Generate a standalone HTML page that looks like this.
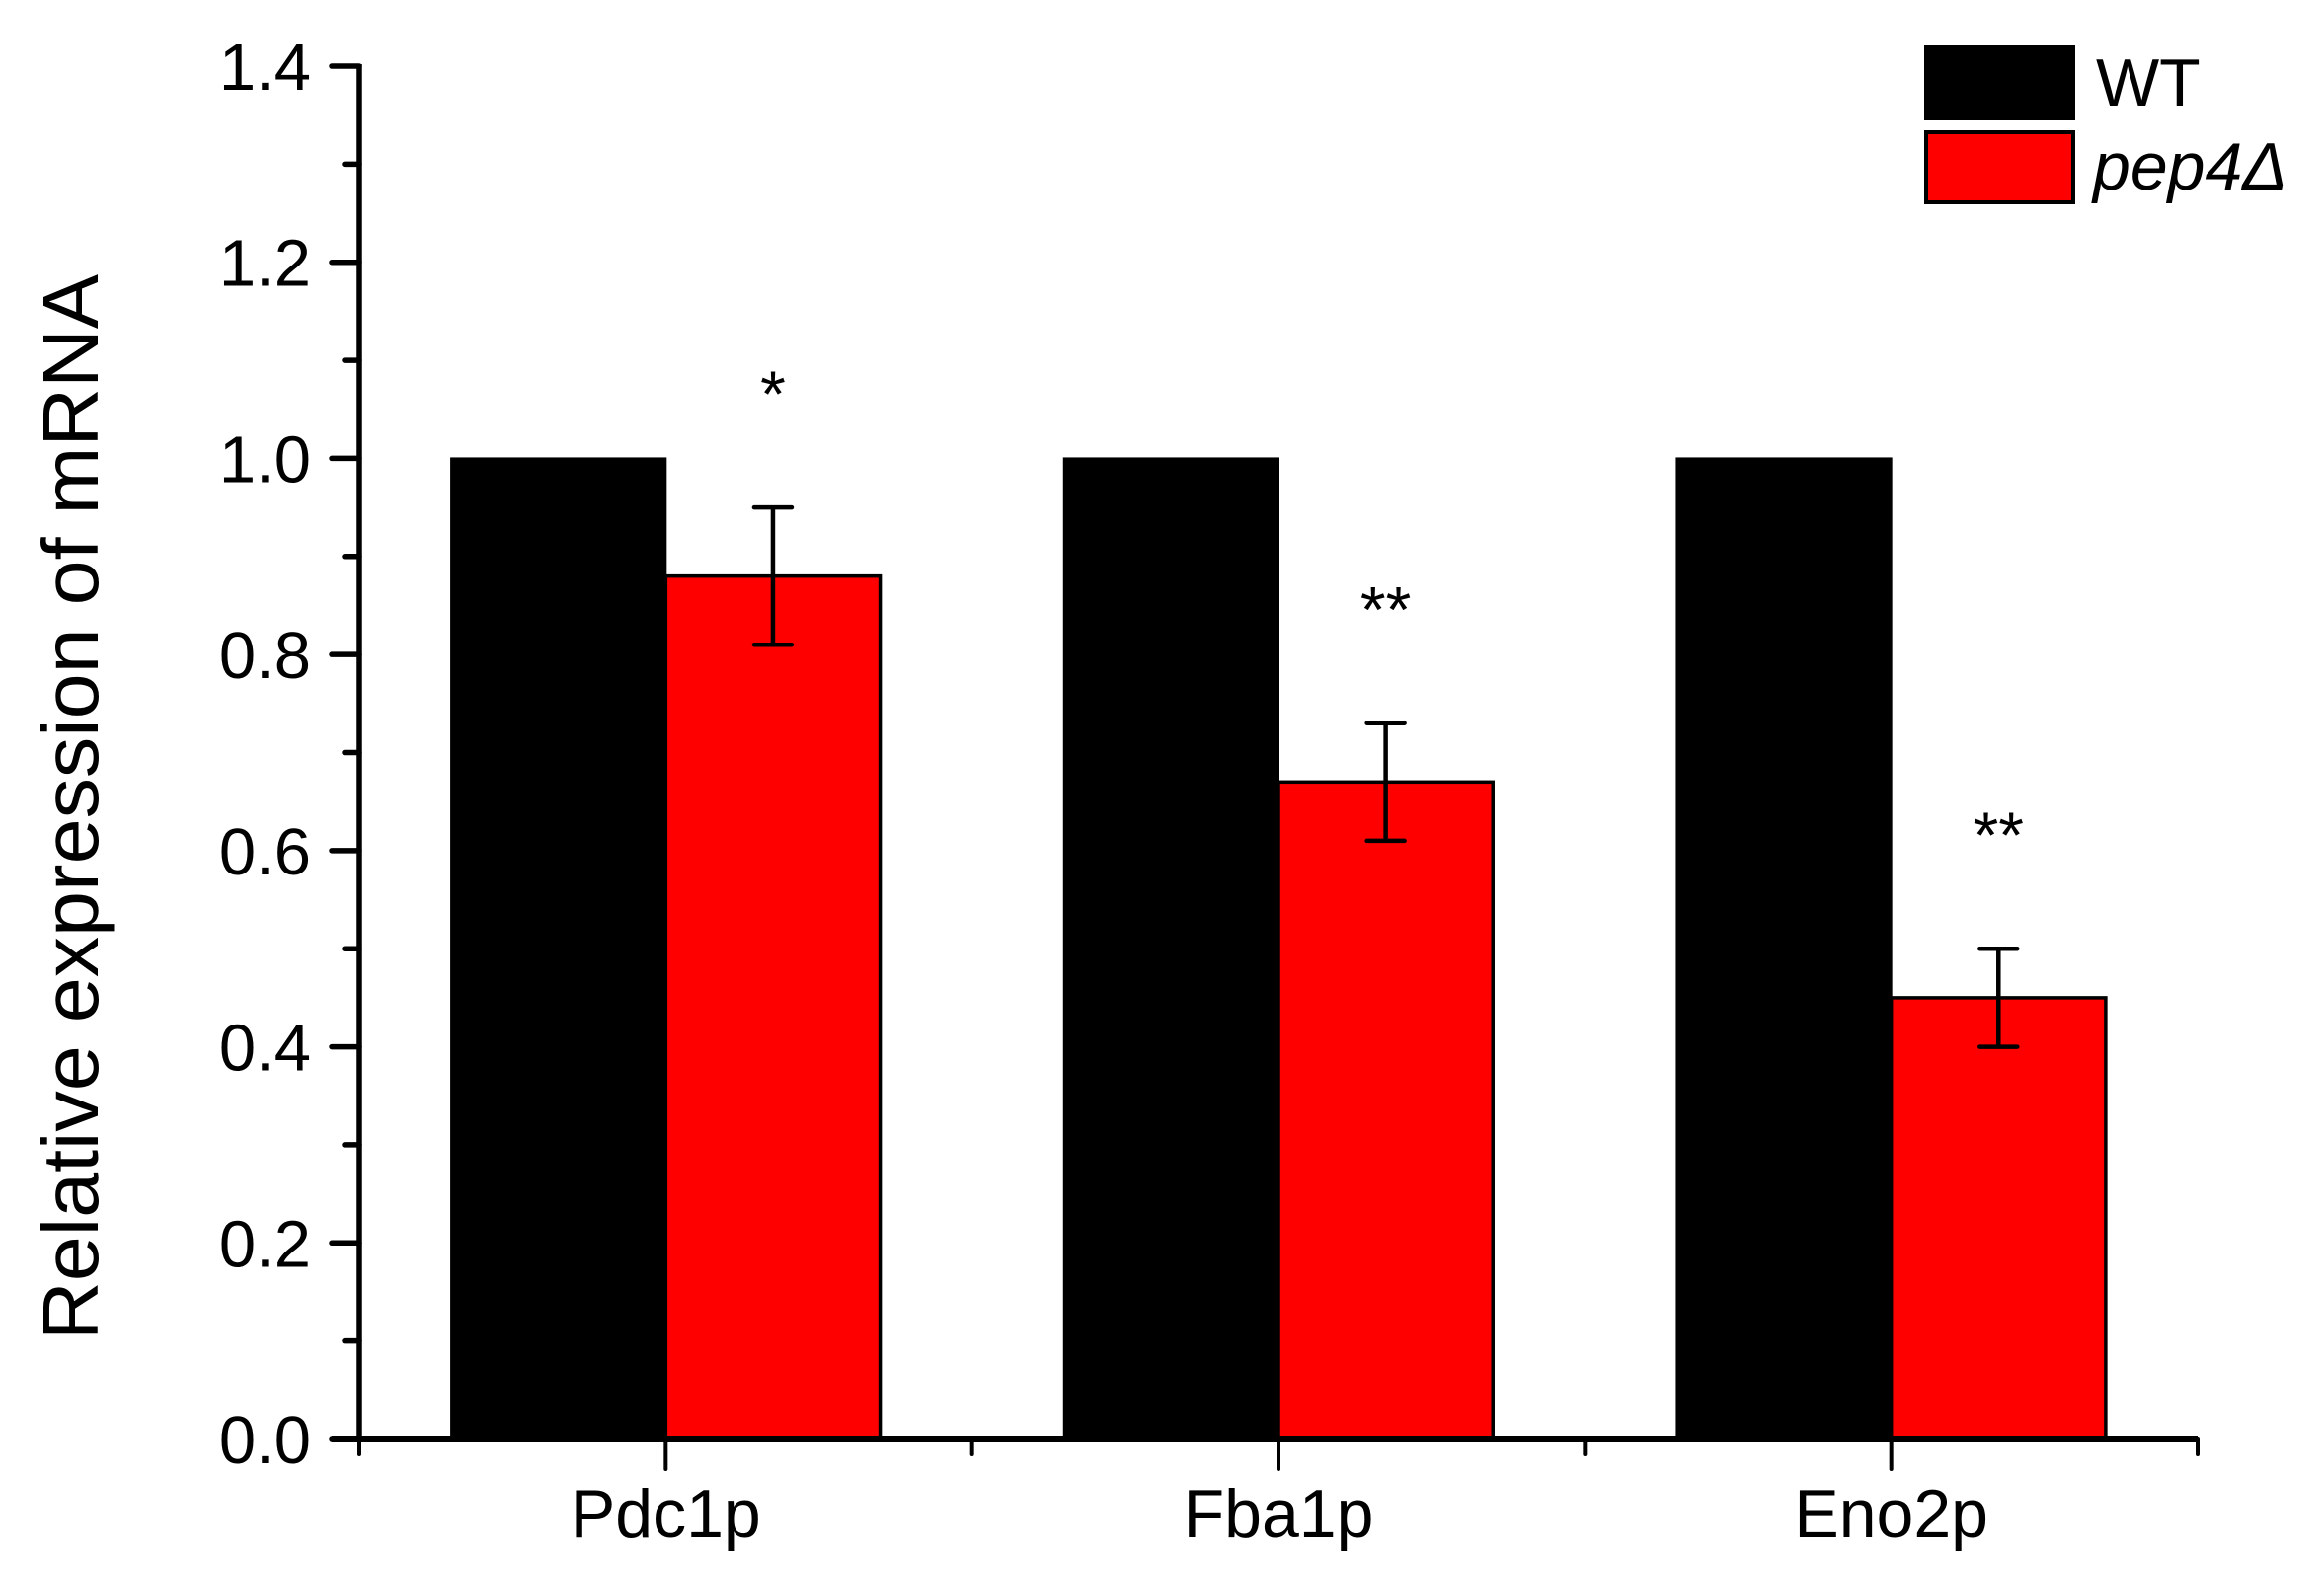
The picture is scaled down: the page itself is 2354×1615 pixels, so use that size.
<!DOCTYPE html>
<html><head><meta charset="utf-8"><style>
body{margin:0;background:#fff}
svg{display:block;font-family:"Liberation Sans",Arial,sans-serif}
</style></head><body>
<svg id="chart" width="2354" height="1615" viewBox="0 0 2354 1615" xmlns="http://www.w3.org/2000/svg">
<rect width="2354" height="1615" fill="#fff"/>
<g id="plot"></g>
<text transform="translate(99,818) rotate(-90)" text-anchor="middle" font-size="80" textLength="1080" lengthAdjust="spacingAndGlyphs">Relative expression of mRNA</text>
<g>
<rect x="1951" y="48" width="149" height="72" fill="#000" stroke="#000" stroke-width="4"/>
<text x="2123" y="107" font-size="68">WT</text>
<rect x="1951" y="134" width="149" height="71" fill="#f00" stroke="#000" stroke-width="4"/>
<text x="2120" y="192" font-size="68" font-style="italic">pep4Δ</text>
</g>
</svg>
<script>
const categories=["Pdc1p","Fba1p","Eno2p"];
const wtValues=[1.0,1.0,1.0];
const mutValues=[0.88,0.67,0.45];
const mutErrors=[0.07,0.06,0.05];
const stars=["*","**","**"];
const yTicks=[0,0.2,0.4,0.6,0.8,1.0,1.2,1.4];
const yTickLabels=["0.0","0.2","0.4","0.6","0.8","1.0","1.2","1.4"];

const NS="http://www.w3.org/2000/svg";
const g=document.getElementById('plot');
const X0=364,X1=2226,Y0=1458,Ytop=67,VMAX=1.4;
const step=(X1-X0)/categories.length;
const bw=step*0.35;
function y(v){return Y0-(v/VMAX)*(Y0-Ytop);}
function xc(i){return X0+step*(i+0.5);}
function mk(tag,attrs){const e=document.createElementNS(NS,tag);for(const k in attrs)e.setAttribute(k,attrs[k]);g.appendChild(e);return e;}

categories.forEach((c,i)=>{
  let r=mk('rect',{x:xc(i)-bw,y:y(wtValues[i]),width:bw,height:Y0-y(wtValues[i]),fill:'#000',stroke:'#000','stroke-width':2});
  
  
  r=mk('rect',{x:xc(i),y:y(mutValues[i]),width:bw,height:Y0-y(mutValues[i]),fill:'#f00',stroke:'#000','stroke-width':3.5});
  
  
  const ex=xc(i)+bw/2, hi=y(mutValues[i]+mutErrors[i]), lo=y(mutValues[i]-mutErrors[i]);
  const eb=mk('path',{d:`M${ex},${hi}V${lo}M${ex-19},${hi}H${ex+19}M${ex-19},${lo}H${ex+19}`,stroke:'#000','stroke-width':4.5,fill:'none','stroke-linecap':'round'});
  
  
  const s=mk('text',{x:ex,y:hi-92,'text-anchor':'middle','font-size':66});
  s.textContent=stars[i];
  
  
  const t=mk('text',{x:xc(i),y:1557,'text-anchor':'middle','font-size':68});
  t.textContent=c;
  
  
  mk('line',{x1:xc(i),x2:xc(i),y1:Y0,y2:Y0+30,stroke:'#000','stroke-width':4,'stroke-linecap':'round'});
});
for(let k=0;k<=categories.length;k++){
  mk('line',{x1:X0+step*k,x2:X0+step*k,y1:Y0,y2:Y0+15,stroke:'#000','stroke-width':4,'stroke-linecap':'round'});
}
yTicks.forEach((v,i)=>{
  mk('line',{x1:X0-28,x2:X0,y1:y(v),y2:y(v),stroke:'#000','stroke-width':5.5,'stroke-linecap':'round'});
  const t=mk('text',{x:315,y:y(v)+24,'text-anchor':'end','font-size':67});
  t.textContent=yTickLabels[i];
  
  
  if(i<yTicks.length-1){const m=(v+yTicks[i+1])/2;mk('line',{x1:X0-15,x2:X0,y1:y(m),y2:y(m),stroke:'#000','stroke-width':5.5,'stroke-linecap':'round'});}
});
let ax=mk('line',{x1:X0,x2:X0,y1:Ytop-2,y2:Y0+3,stroke:'#000','stroke-width':5.5});


ax=mk('line',{x1:X0-28,x2:X1,y1:Y0,y2:Y0,stroke:'#000','stroke-width':6});


</script>
</body></html>
